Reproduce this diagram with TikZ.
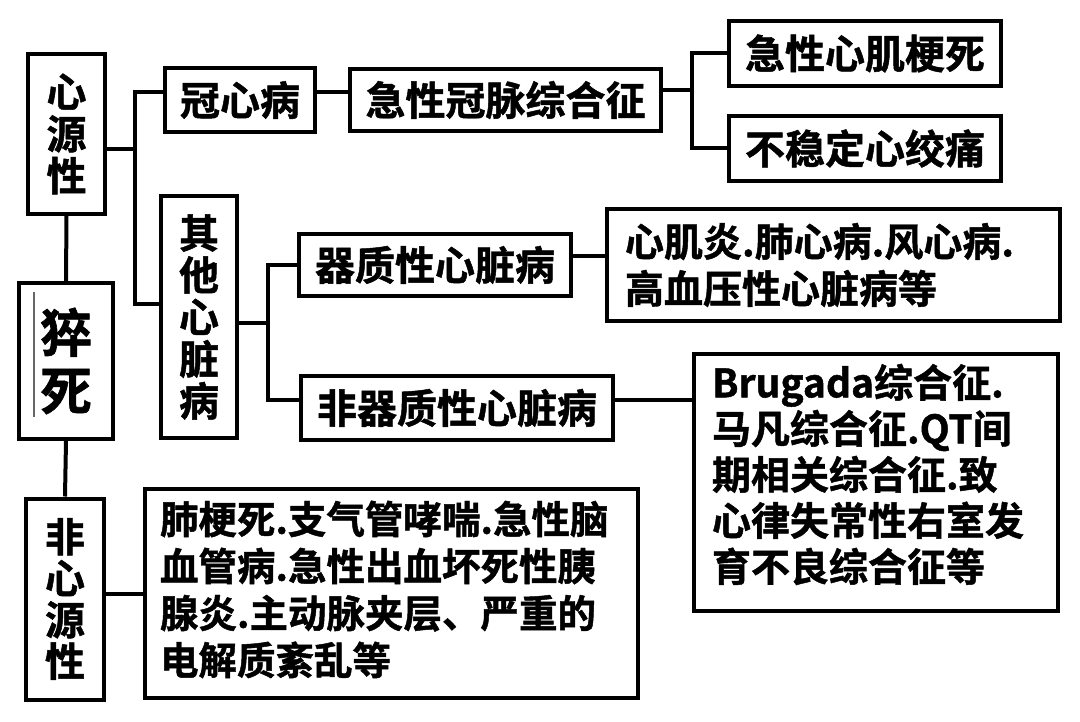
\documentclass[tikz,border=0pt]{standalone}
\usepackage{fontspec}
\newfontfamily\cjk{Noto Sans CJK SC}[UprightFont=* Bold, FakeBold=1.2]
\begin{document}
\begin{tikzpicture}[x=1pt,y=-1pt,
  box/.style={draw, line width=4pt, inner sep=0pt, font=\cjk\fontsize{40}{42}\selectfont, align=center},
  multi/.style={box, align=left, font=\cjk\fontsize{39}{47}\selectfont},
  wire/.style={line width=4pt, line join=miter}]
\useasboundingbox (0,0) rectangle (1080,722);
% nodes
\node[box, minimum width=77pt, minimum height=160pt] (xyx) at (66.5,134) {心\\源\\性};
\node[box, minimum width=94pt, minimum height=156pt, font=\cjk\fontsize{52}{58}\selectfont] (cusi) at (66,361) {猝\\死};
\node[box, minimum width=78pt, minimum height=201pt, font=\cjk\fontsize{40}{41.5}\selectfont] (fxy) at (65,599) {非\\心\\源\\性};
\node[box, minimum width=150pt, minimum height=64pt] (gxb) at (240,100) {冠心病};
\node[box, minimum width=311pt, minimum height=62pt] (acs) at (505.5,100) {急性冠脉综合征};
\node[box, minimum width=272pt, minimum height=65pt] (ami) at (865,53.5) {急性心肌梗死};
\node[box, minimum width=272pt, minimum height=65pt] (ua) at (865,148.5) {不稳定心绞痛};
\node[box, minimum width=76pt, minimum height=242pt] (qt) at (199,317) {其\\他\\心\\脏\\病};
\node[box, minimum width=272pt, minimum height=62pt] (qz) at (435,265) {器质性心脏病};
\node[box, minimum width=312pt, minimum height=64pt] (fqz) at (457,408) {非器质性心脏病};
\node[multi, minimum width=453pt, minimum height=112pt, text width=417pt] (xjy) at (833.5,265)
  {心肌炎.肺心病.风心病.\\高血压性心脏病等};
\node[multi, minimum width=364pt, minimum height=257pt, text width=328pt, font=\cjk\fontsize{39}{46}\selectfont] (bru) at (876,482.5)
  {\parbox{328pt}{\raggedright Brugada综合征.\\马凡综合征.QT间\\期相关综合征.致\\心律失常性右室发\\育不良综合征等\par\vspace{16pt}}};
\node[multi, minimum width=493pt, minimum height=209pt, text width=463pt, font=\cjk\fontsize{38.5}{47}\selectfont] (big) at (391.5,593.5)
  {\parbox{463pt}{\raggedright 肺梗死.支气管哮喘.急性脑\\血管病.急性出血坏死性胰\\腺炎.主动脉夹层、严重的\\电解质紊乱等\par\vspace{8pt}}};
% stray thin mark in the 猝死 box
\draw[line width=1.2pt, black!60] (34,292) -- (34,417);
% junction coordinates
\coordinate (j1) at (135,149);
\coordinate (j1t) at (135,92);
\coordinate (j1b) at (135,304);
\coordinate (j2) at (692,90);
\coordinate (j3) at (268,323);
\coordinate (j3b) at (268,400);
\coordinate (k1) at (590,256);
% connectors
\draw[wire] (xyx.south) -- (cusi.north);
\draw[wire] (cusi.south) -- (fxy.north);
\draw[wire] (fxy.east |- big.west) -- (big.west);
\draw[wire] (xyx.east |- j1) -- (j1);
\draw[wire] (gxb.west |- j1t) -- (j1t) -- (j1b) -- (qt.west |- j1b);
\draw[wire] (gxb.east |- j1t) -- (acs.west |- j1t);
\draw[wire] (acs.east |- j2) -- (j2);
\draw[wire] (ami.west) -| (j2) |- (ua.west);
\draw[wire] (qt.east |- j3) -- (j3);
\draw[wire] (qz.west) -| (j3b) -- (fqz.west |- j3b);
\draw[wire] (qz.east |- k1) -- (xjy.west |- k1);
\draw[wire] (fqz.east |- j3b) -- (bru.west |- j3b);
\end{tikzpicture}
\end{document}
